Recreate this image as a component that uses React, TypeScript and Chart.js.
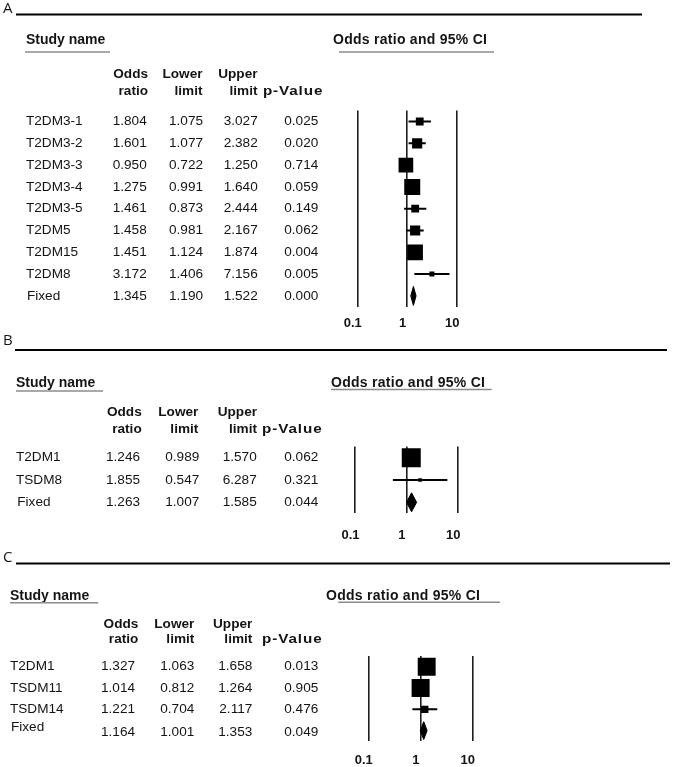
import React, { useEffect, useRef } from 'react';
import { Chart, registerables } from 'chart.js';

Chart.register(...registerables);

// ---------------- Data: panel A ----------------
const studiesA = ['T2DM3-1', 'T2DM3-2', 'T2DM3-3', 'T2DM3-4', 'T2DM3-5', 'T2DM5', 'T2DM15', 'T2DM8'];
const oddsA = [1.804, 1.601, 0.95, 1.275, 1.461, 1.458, 1.451, 3.172];
const lowerA = [1.075, 1.077, 0.722, 0.991, 0.873, 0.981, 1.124, 1.406];
const upperA = [3.027, 2.382, 1.25, 1.64, 2.444, 2.167, 1.874, 7.156];
const pValuesA = [0.025, 0.02, 0.714, 0.059, 0.149, 0.062, 0.004, 0.005];
const fixedA = [1.345, 1.19, 1.522]; // odds ratio, lower, upper
const fixedPA = 0.0;

// ---------------- Data: panel B ----------------
const studiesB = ['T2DM1', 'TSDM8'];
const oddsB = [1.246, 1.855];
const lowerB = [0.989, 0.547];
const upperB = [1.57, 6.287];
const pValuesB = [0.062, 0.321];
const fixedB = [1.263, 1.007, 1.585];
const fixedPB = 0.044;

// ---------------- Data: panel C ----------------
const studiesC = ['T2DM1', 'TSDM11', 'TSDM14'];
const oddsC = [1.327, 1.014, 1.221];
const lowerC = [1.063, 0.812, 0.704];
const upperC = [1.658, 1.264, 2.117];
const pValuesC = [0.013, 0.905, 0.476];
const fixedC = [1.164, 1.001, 1.353];
const fixedPC = 0.049;

// ---------------- Labels ----------------
const panelLetters = ['A', 'B', 'C'];
const fixedLabel = 'Fixed';
const studyHeader = 'Study name';
const plotHeader = 'Odds ratio and 95% CI';
const columnHeadersTop = ['Odds', 'Lower', 'Upper', ''];
const columnHeadersBottom = ['ratio', 'limit', 'limit', 'p-Value'];
const tickValues = [0.1, 1, 10];
const tickLabels = ['0.1', '1', '10'];

// ---------------- Layout (page pixels) ----------------
const W = 675;
const AXIS_H = 30;
const FAM = '"Liberation Sans", Arial, sans-serif';
const TEXT = '#141414';

const layouts = [
  {
    top: 0, height: 335,
    letterY: 8.5, ruleY: 14.5, ruleX: [16, 642],
    titleY: 40.5, studyX: 26, studyUl: [25, 110, 52], orX: 333, orUl: [339, 494, 52],
    headY: [74, 91.7], headRight: [148, 202.5, 257.5, 322.5],
    row0: 121.5, rowStep: 21.8,
    nameX: 26, fixedNameX: 27, valRight: [146.7, 203, 257.7, 318.3], fixedNameDy: 0, fixedValDy: 0,
    plotX: [357.3, 456.7], tickY: 323.3, maxBox: 16, diamondH: 0.436,
  },
  {
    top: 335, height: 210,
    letterY: 341, ruleY: 350, ruleX: [15, 667],
    titleY: 383.3, studyX: 16, studyUl: [16, 103, 391], orX: 331, orUl: [331, 491.7, 389.5],
    headY: [412.3, 429], headRight: [141.7, 198.3, 257, 321.7],
    row0: 457.7, rowStep: 22.3,
    nameX: 16, fixedNameX: 17.3, valRight: [140, 199.3, 256.7, 318.3], fixedNameDy: 0, fixedValDy: 0,
    plotX: [355, 457.7], tickY: 535, maxBox: 19, diamondH: 0.426,
  },
  {
    top: 545, height: 222,
    letterY: 558, ruleY: 563.5, ruleX: [16, 670],
    titleY: 595.7, studyX: 10, studyUl: [10, 98.3, 602.7], orX: 326, orUl: [338.3, 500, 602.3],
    headY: [624, 639.3], headRight: [138.3, 194.3, 252.3, 321.7],
    row0: 666.7, rowStep: 21.3,
    nameX: 10, fixedNameX: 11, valRight: [135, 194.3, 252.3, 318.3], fixedNameDy: -3, fixedValDy: 1.7,
    plotX: [368.3, 472.3], tickY: 760, maxBox: 18, diamondH: 0.42,
  },
];

const panels = [
  { names: studiesA, odds: oddsA, lower: lowerA, upper: upperA, p: pValuesA, fixed: fixedA, fixedP: fixedPA },
  { names: studiesB, odds: oddsB, lower: lowerB, upper: upperB, p: pValuesB, fixed: fixedB, fixedP: fixedPB },
  { names: studiesC, odds: oddsC, lower: lowerC, upper: upperC, p: pValuesC, fixed: fixedC, fixedP: fixedPC },
];

function hline(ctx: CanvasRenderingContext2D, x0: number, x1: number, y: number, color: string, w: number) {
  ctx.save();
  ctx.strokeStyle = color;
  ctx.lineWidth = w;
  ctx.beginPath();
  ctx.moveTo(x0, y);
  ctx.lineTo(x1, y);
  ctx.stroke();
  ctx.restore();
}

function makeTextPlugin(d: any, L: any, letter: string) {
  return {
    id: 'forestText' + letter,
    afterDraw(chart: any) {
      const ctx: CanvasRenderingContext2D = chart.ctx;
      const ys = chart.scales.y;
      const T = L.top;
      const n = d.names.length;
      ctx.save();
      ctx.fillStyle = TEXT;
      ctx.textBaseline = 'middle';

      // panel letter + rule
      ctx.textAlign = 'left';
      ctx.font = '15px "Open Sans", sans-serif';
      ctx.fillText(letter, 3, L.letterY - T);
      hline(ctx, L.ruleX[0], L.ruleX[1], L.ruleY - T, '#000', 2);

      // section headers
      ctx.font = `bold 14px ${FAM}`;
      ctx.fillText(studyHeader, L.studyX, L.titleY - T);
      (ctx as any).letterSpacing = '0.27px';
      ctx.fillText(plotHeader, L.orX, L.titleY - T);
      (ctx as any).letterSpacing = '0px';
      hline(ctx, L.studyUl[0], L.studyUl[1], L.studyUl[2] - T, '#8c8c8c', 1.5);
      hline(ctx, L.orUl[0], L.orUl[1], L.orUl[2] - T, '#8c8c8c', 1.5);

      // column headers
      ctx.font = `bold 13.6px ${FAM}`;
      ctx.textAlign = 'right';
      for (let c = 0; c < 4; c++) {
        if (columnHeadersTop[c]) ctx.fillText(columnHeadersTop[c], L.headRight[c], L.headY[0] - T);
        if (c === 3) {
          ctx.save();
          (ctx as any).letterSpacing = '0.8px';
          ctx.translate(L.headRight[c] + 0.8, L.headY[1] - T);
          ctx.scale(1.12, 1);
          ctx.fillText(columnHeadersBottom[c], 0, 0);
          ctx.restore();
        } else {
          ctx.fillText(columnHeadersBottom[c], L.headRight[c], L.headY[1] - T);
        }
      }

      // rows
      ctx.font = `13.6px ${FAM}`;
      for (let i = 0; i <= n; i++) {
        const isFixed = i === n;
        const y = ys.getPixelForValue(i);
        ctx.textAlign = 'left';
        ctx.fillText(isFixed ? fixedLabel : d.names[i], isFixed ? L.fixedNameX : L.nameX, y + (isFixed ? L.fixedNameDy : 0));
        const vals = isFixed
          ? [d.fixed[0], d.fixed[1], d.fixed[2], d.fixedP]
          : [d.odds[i], d.lower[i], d.upper[i], d.p[i]];
        ctx.textAlign = 'right';
        vals.forEach((v: number, c: number) => {
          ctx.fillText(v.toFixed(3), L.valRight[c], y + (isFixed ? L.fixedValDy : 0));
        });
      }
      ctx.restore();
    },
  };
}

function buildChart(canvas: HTMLCanvasElement, d: any, L: any, letter: string) {
  const n = d.names.length;
  const rows = n + 1;
  const plotTop = L.row0 - L.rowStep / 2;
  const plotBottom = L.row0 + (rows - 0.5) * L.rowStep;
  const tickPad = L.tickY - plotBottom - (13 * 1.2) / 2;

  // box side proportional to 1/SE (area proportional to inverse-variance weight)
  const spans = d.lower.map((lo: number, i: number) => Math.log(d.upper[i] / lo));
  const minSpan = Math.min(...spans);
  const sides = spans.map((s: number) => Math.max((L.maxBox * minSpan) / s, 3.5));

  const datasets: any[] = [];
  d.names.forEach((_: string, i: number) => {
    datasets.push({
      type: 'line',
      data: [{ x: d.lower[i], y: i }, { x: d.upper[i], y: i }],
      borderColor: '#000',
      borderWidth: 2,
      pointRadius: 0,
      fill: false,
    });
  });
  datasets.push({
    type: 'scatter',
    data: d.odds.map((v: number, i: number) => ({ x: v, y: i })),
    pointStyle: 'rect',
    pointRadius: sides.map((s: number) => s / Math.SQRT2),
    backgroundColor: '#000',
    borderColor: '#000',
    borderWidth: 0,
  });
  const [fOr, fLo, fHi] = d.fixed;
  const h = L.diamondH;
  datasets.push({
    type: 'line',
    data: [{ x: fLo, y: n }, { x: fOr, y: n - h }, { x: fHi, y: n }],
    borderColor: '#000',
    backgroundColor: '#000',
    borderWidth: 1,
    pointRadius: 0,
    fill: '+1',
  });
  datasets.push({
    type: 'line',
    data: [{ x: fLo, y: n }, { x: fOr, y: n + h }, { x: fHi, y: n }],
    borderColor: '#000',
    borderWidth: 1,
    pointRadius: 0,
    fill: false,
  });

  return new Chart(canvas, {
    type: 'scatter',
    data: { datasets },
    options: {
      animation: false,
      responsive: false,
      devicePixelRatio: 1,
      events: [],
      layout: {
        padding: {
          left: L.plotX[0],
          right: W - L.plotX[1],
          top: plotTop - L.top,
          bottom: L.top + L.height - plotBottom - AXIS_H,
        },
      },
      plugins: { legend: { display: false }, tooltip: { enabled: false } },
      scales: {
        x: {
          type: 'logarithmic',
          position: 'bottom',
          min: 0.1,
          max: 10,
          afterBuildTicks: (s: any) => {
            s.ticks = tickValues.map((v) => ({ value: v }));
          },
          afterFit: (s: any) => {
            s.height = AXIS_H;
          },
          grid: { color: '#1e1e1e', lineWidth: 1.6, drawTicks: false },
          border: { display: false },
          ticks: {
            callback: (_v: any, i: number) => tickLabels[i],
            font: { family: FAM, weight: 'bold', size: 13 },
            color: TEXT,
            padding: tickPad,
            labelOffset: -4.5,
            maxRotation: 0,
            autoSkip: false,
          },
        },
        y: { type: 'linear', min: -0.5, max: rows - 0.5, reverse: true, display: false },
      },
    } as any,
    plugins: [makeTextPlugin(d, L, letter)],
  });
}

function Panel({ idx }: { idx: number }) {
  const ref = useRef<HTMLCanvasElement>(null);
  const L = layouts[idx];
  useEffect(() => {
    if (!ref.current) return;
    const chart = buildChart(ref.current, panels[idx], L, panelLetters[idx]);
    return () => chart.destroy();
  }, [idx]);
  return (
    <canvas
      ref={ref}
      width={W}
      height={L.height}
      style={{ position: 'absolute', left: 0, top: L.top, width: W, height: L.height }}
    />
  );
}

export default function App() {
  return (
    <div style={{ position: 'absolute', left: 0, top: 0, width: W, height: 767, background: '#fff' }}>
      {[0, 1, 2].map((i) => (
        <Panel key={i} idx={i} />
      ))}
    </div>
  );
}
